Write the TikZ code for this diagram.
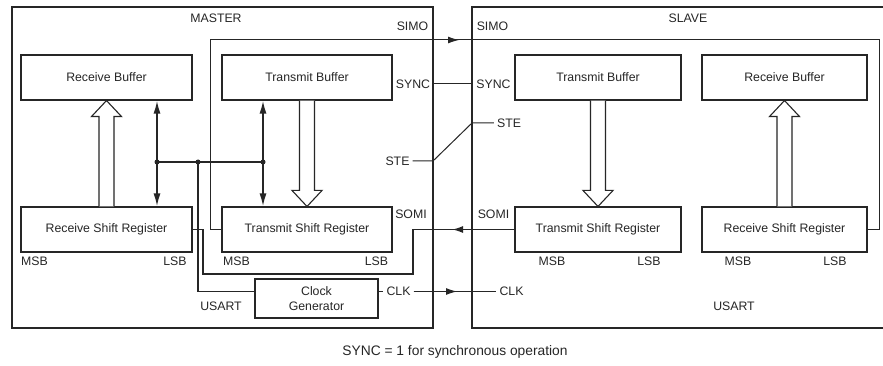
\documentclass[tikz,border=0pt]{standalone}
\usepackage{fontspec}
\setmainfont{Liberation Sans}
\usetikzlibrary{arrows.meta,calc}
\newcommand\dfont{\fontsize{12.3}{15}\selectfont}
\newcommand\capfont{\fontsize{13.8}{16}\selectfont}
\newcommand\hollowup[2]{%
  \draw[hollow] ($(#1)+(-7.5pt,0pt)$) -- ($(#2)+(-7.5pt,-16pt)$) -- ($(#2)+(-15pt,-16pt)$) -- (#2)
    -- ($(#2)+(15pt,-16pt)$) -- ($(#2)+(7.5pt,-16pt)$) -- ($(#1)+(7.5pt,0pt)$);}
\newcommand\hollowdown[2]{%
  \draw[hollow] ($(#1)+(-7.5pt,0pt)$) -- ($(#2)+(-7.5pt,16pt)$) -- ($(#2)+(-15pt,16pt)$) -- (#2)
    -- ($(#2)+(15pt,16pt)$) -- ($(#2)+(7.5pt,16pt)$) -- ($(#1)+(7.5pt,0pt)$);}
\tikzset{
  box/.style={draw, line width=1.1pt, minimum height=45pt, inner sep=0pt, font=\dfont},
  lbl/.style={inner sep=3pt, font=\dfont},
  frame/.style={line width=1.1pt},
  wire/.style={line width=1pt},
  bus/.style={line width=1.8pt},
  hollow/.style={line width=1.1pt, fill=white},
  tip/.style={-{Latex[length=11pt,width=7pt]}},
  dbl/.style={{Latex[length=13pt,width=7pt]}-{Latex[length=13pt,width=7pt]}},
  dot/.style={circle, fill, inner sep=0pt, minimum size=5pt}
}
\begin{document}
\begin{tikzpicture}[x=1pt,y=-1pt, color=black!85]
\clip (0,0) rectangle (883,366);
\fill[white] (0,0) rectangle (883,366);

% outer frames
\draw[frame] (12,7) rectangle (433,328);
\draw[frame] (472,7) rectangle (900,328);
\node[lbl] (master) at (216,18.5) {MASTER};
\node[lbl] (slave) at (688,18.5) {SLAVE};

% master boxes
\node[box, minimum width=171pt] (mrb) at (106.5,77.5) {Receive Buffer};
\node[box, minimum width=170pt] (mtb) at (307,77.5) {Transmit Buffer};
\node[box, minimum width=171pt] (mrsr) at (106.5,229.5) {Receive Shift Register};
\node[box, minimum width=170pt] (mtsr) at (307,229.5) {Transmit Shift Register};
\node[box, minimum width=123pt, minimum height=39pt, align=center] (mcg) at (316.5,298.5) {Clock\\Generator};

% slave boxes
\node[box, minimum width=166pt] (stb) at (598,77.5) {Transmit Buffer};
\node[box, minimum width=165pt] (srb) at (784.5,77.5) {Receive Buffer};
\node[box, minimum width=166pt] (stsr) at (598,229.5) {Transmit Shift Register};
\node[box, minimum width=165pt] (srsr) at (784.5,229.5) {Receive Shift Register};

% MSB / LSB
\node[lbl] (m1msb) at (34.5,261) {MSB};
\node[lbl] (m1lsb) at (175,261) {LSB};
\node[lbl] (m2msb) at (236.5,261) {MSB};
\node[lbl] (m2lsb) at (376.5,261) {LSB};
\node[lbl] (s1msb) at (552,261) {MSB};
\node[lbl] (s1lsb) at (649,261) {LSB};
\node[lbl] (s2msb) at (738,261) {MSB};
\node[lbl] (s2lsb) at (835,261) {LSB};

\node[lbl] (musart) at (221,306) {USART};
\node[lbl] (susart) at (734,306.5) {USART};

% hollow block arrows
\hollowup{mrsr.north}{mrb.south}
\hollowdown{mtb.south}{mtsr.north}
\hollowdown{stb.south}{stsr.north}
\hollowup{srsr.north}{srb.south}

% bus
\coordinate (b1) at (157,162);
\coordinate (b2) at (198,162);
\coordinate (b3) at (263,162);

% SIMO wire
\coordinate (s1) at (210,40);
\coordinate (s2) at (879,40);
\coordinate (s3) at (459,40);
\draw[wire] (mtsr.west) -| (s1) -- (s2) |- (srsr.east);
\draw[wire, tip] (s1) -- (s3);
\node[lbl] (msimo) at (412.5,26.5) {SIMO};
\node[lbl] (ssimo) at (492.5,26.5) {SIMO};

% bus lines
\draw[bus] (b1) -- (b3);
\draw[bus, dbl] (mrb.south -| b1) -- (mrsr.north -| b1);
\draw[bus, dbl] (mtb.south -| b3) -- (mtsr.north -| b3);
\node[dot] (d1) at (b1) {};
\node[dot] (d2) at (b2) {};
\node[dot] (d3) at (b3) {};

% clock wire from bus
\draw[bus] (b2) |- ([yshift=7pt]mcg.west);

% SOMI wire
\coordinate (so1) at (413,274);
\coordinate (so2) at (203,274);
\coordinate (so3) at (452,229.5);
\draw[bus] (stsr.west) -| (so1) -- (so2) |- (mrsr.east);
\draw[bus, tip] (stsr.west) -- (so3);
\node[lbl] (msomi) at (411,214) {SOMI};
\node[lbl] (ssomi) at (493.5,214.5) {SOMI};

% SYNC
\node[lbl] (msync) at (413,84) {SYNC};
\node[lbl] (ssync) at (493.5,84) {SYNC};
\draw[wire] (msync.east) -- (ssync.west);

% STE
\node[lbl] (mste) at (397.5,161) {STE};
\node[lbl] (sste) at (509,123) {STE};
\coordinate (t1) at (433,161);
\coordinate (t2) at (472,123);
\draw[wire] (mste.east) -- (t1) -- (t2) -- (sste.west);

% CLK
\node[lbl] (mclk) at (398.5,291.5) {CLK};
\node[lbl] (sclk) at (511.5,291.5) {CLK};
\coordinate (c1) at (457,291.5);
\draw[wire] ([yshift=7pt]mcg.east) -- (mclk.west);
\draw[wire] (mclk.east) -- (sclk.west);
\draw[wire, tip] (mclk.east) -- (c1);

% caption
\node[inner sep=0pt, font=\capfont] (cap) at (455,352) {SYNC = 1 for synchronous operation};
\end{tikzpicture}
\end{document}
